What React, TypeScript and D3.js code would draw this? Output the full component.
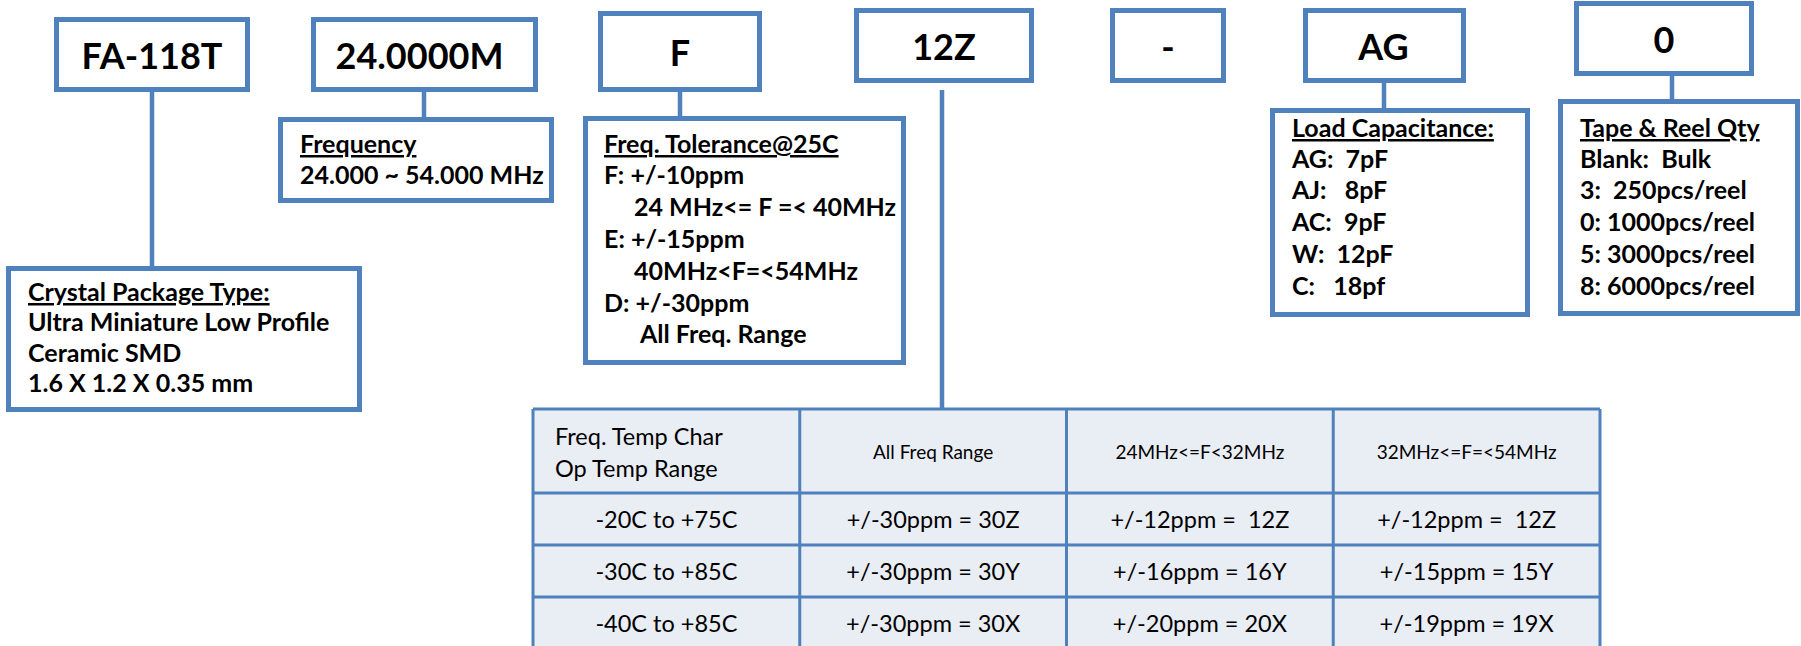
import React from "react";
import * as d3 from "d3";

// ---------- data ----------
const codeLabels = ["FA-118T", "24.0000M", "F", "12Z", "-", "AG", "0"];

const crystalTitle = "Crystal Package Type:";
const crystalLines = ["Ultra Miniature Low Profile", "Ceramic SMD", "1.6 X 1.2 X 0.35 mm"];

const frequencyTitle = "Frequency";
const frequencyLines = ["24.000 ~ 54.000 MHz"];

const toleranceTitle = "Freq. Tolerance@25C";
const toleranceLines = [
  "F: +/-10ppm",
  "24 MHz<= F =< 40MHz",
  "E: +/-15ppm",
  "40MHz<F=<54MHz",
  "D: +/-30ppm",
  "All Freq. Range",
];

const loadTitle = "Load Capacitance:";
const loadLines = ["AG:  7pF", "AJ:   8pF", "AC:  9pF", "W:  12pF", "C:   18pf"];

const reelTitle = "Tape & Reel Qty";
const reelLines = ["Blank:  Bulk", "3:  250pcs/reel", "0: 1000pcs/reel", "5: 3000pcs/reel", "8: 6000pcs/reel"];

const tableCorner = ["Freq. Temp Char", "Op Temp Range"];
const tableHeaders = ["All Freq Range", "24MHz<=F<32MHz", "32MHz<=F=<54MHz"];
const tempRanges = ["-20C to +75C", "-30C to +85C", "-40C to +85C"];
const allFreqCodes = ["+/-30ppm = 30Z", "+/-30ppm = 30Y", "+/-30ppm = 30X"];
const lowFreqCodes = ["+/-12ppm =  12Z", "+/-16ppm = 16Y", "+/-20ppm = 20X"];
const highFreqCodes = ["+/-12ppm =  12Z", "+/-15ppm = 15Y", "+/-19ppm = 19X"];

// ---------- layout ----------
const W = 1801;
const H = 646;
const BLUE = "#4F81BD";
const FONT = "Lato, 'Open Sans', sans-serif";

// outer edges [x0, x1, y0, y1]
const codeBoxes = [
  [54, 250, 17, 92],
  [311, 538, 17, 92],
  [598, 762, 11, 92],
  [854, 1034, 8, 83],
  [1110, 1226, 8, 83],
  [1303, 1466, 8, 83],
  [1574, 1754, 1, 76],
];
const labelDx = [0, -5, 0, 0, 0, -1, 0];

const connectors = [
  [152, 92, 267],
  [424, 92, 118],
  [680, 92, 118],
  [942, 90, 409],
  [1384, 73, 108],
  [1672, 69, 99],
];

type Desc = {
  box: number[];
  tx: number;
  baselines: number[];
  title: string;
  lines: string[];
  indents?: number[];
};

const descs: Desc[] = [
  { box: [6, 362, 266, 412], tx: 28, baselines: [301, 331, 362, 392], title: crystalTitle, lines: crystalLines },
  { box: [278, 554, 117, 203], tx: 300, baselines: [153, 184], title: frequencyTitle, lines: frequencyLines },
  {
    box: [583, 906, 116, 365],
    tx: 604,
    baselines: [153, 184, 216, 248, 280, 312, 343],
    title: toleranceTitle,
    lines: toleranceLines,
    indents: [0, 30, 0, 30, 0, 36],
  },
  { box: [1270, 1530, 108, 317], tx: 1292, baselines: [137, 168, 199, 231, 263, 295], title: loadTitle, lines: loadLines },
  { box: [1558, 1800, 99, 316], tx: 1580, baselines: [137, 168, 199, 231, 263, 295], title: reelTitle, lines: reelLines },
];

const SW = 5;
const DESC_SIZE = 25;

function Box({ b }: { b: number[] }) {
  const [x0, x1, y0, y1] = b;
  return (
    <rect
      x={x0 + SW / 2}
      y={y0 + SW / 2}
      width={x1 - x0 - SW}
      height={y1 - y0 - SW}
      fill="#fff"
      stroke={BLUE}
      strokeWidth={SW}
    />
  );
}

export default function App() {
  const tableTop = 409;
  const headerBottom = 493;
  const colScale = d3.scaleBand<number>().domain(d3.range(4)).range([533, 1600]);
  const rowScale = d3.scaleBand<number>().domain(d3.range(3)).range([headerBottom, 649]);
  const columns = [tempRanges, allFreqCodes, lowFreqCodes, highFreqCodes];
  const tLeft = colScale(0)!;
  const tRight = colScale(3)! + colScale.bandwidth();
  const tBottom = rowScale(2)! + rowScale.bandwidth();

  return (
    <svg
      width={W}
      height={H}
      viewBox={`0 0 ${W} ${H}`}
      style={{ position: "absolute", left: 0, top: 0, background: "#fff" }}
      fontFamily={FONT}
    >
      <rect x={0} y={0} width={W} height={H} fill="#fff" />

      {/* connectors */}
      {connectors.map(([x, y1, y2], i) => (
        <line key={"c" + i} x1={x} x2={x} y1={y1} y2={y2} stroke={BLUE} strokeWidth={4.5} />
      ))}

      {/* code boxes */}
      {codeLabels.map((lab, i) => {
        const b = codeBoxes[i];
        const cx = (b[0] + b[1]) / 2 + labelDx[i];
        const cy = (b[2] + b[3]) / 2;
        return (
          <g key={"k" + i}>
            <Box b={b} />
            <text x={cx} y={cy + 14.5} textAnchor="middle" fontWeight={700} fontSize={36} fill="#000">
              {lab}
            </text>
          </g>
        );
      })}

      {/* description boxes */}
      {descs.map((d, i) => (
        <g key={"d" + i}>
          <Box b={d.box} />
          <text
            x={d.tx}
            y={d.baselines[0]}
            fontWeight={700}
            fontSize={DESC_SIZE}
            fill="#000"
            style={{ textDecoration: "underline", whiteSpace: "pre" }}
          >
            {d.title}
          </text>
          {d.lines.map((ln, j) => (
            <text
              key={j}
              x={d.tx + (d.indents ? d.indents[j] : 0)}
              y={d.baselines[j + 1]}
              fontWeight={700}
              fontSize={DESC_SIZE}
              fill="#000"
              style={{ whiteSpace: "pre" }}
            >
              {ln}
            </text>
          ))}
        </g>
      ))}

      {/* table */}
      <rect x={tLeft} y={tableTop} width={tRight - tLeft} height={tBottom - tableTop} fill="#E9EDF4" />
      {[tableTop, headerBottom, ...rowScale.domain().map((r) => rowScale(r)! + rowScale.bandwidth())].map((y, i) => (
        <line key={"h" + i} x1={tLeft} x2={tRight} y1={y} y2={y} stroke={BLUE} strokeWidth={3} />
      ))}
      {[...colScale.domain().map((c) => colScale(c)!), tRight].map((x, i) => (
        <line key={"v" + i} x1={x} x2={x} y1={tableTop} y2={tBottom} stroke={BLUE} strokeWidth={3} />
      ))}

      {tableCorner.map((t, i) => (
        <text key={"tc" + i} x={tLeft + 22} y={445 + i * 32} fontSize={23.5} fill="#000">
          {t}
        </text>
      ))}
      {tableHeaders.map((t, i) => (
        <text
          key={"th" + i}
          x={colScale(i + 1)! + colScale.bandwidth() / 2}
          y={(tableTop + headerBottom) / 2 + 8}
          fontSize={19}
          textAnchor="middle"
          fill="#000"
        >
          {t}
        </text>
      ))}
      {columns.map((col, c) =>
        col.map((t, r) => (
          <text
            key={`cell${c}-${r}`}
            x={colScale(c)! + colScale.bandwidth() / 2}
            y={rowScale(r)! + rowScale.bandwidth() / 2 + 9}
            fontSize={23.5}
            textAnchor="middle"
            fill="#000"
            style={{ whiteSpace: "pre" }}
          >
            {t}
          </text>
        ))
      )}
    </svg>
  );
}
